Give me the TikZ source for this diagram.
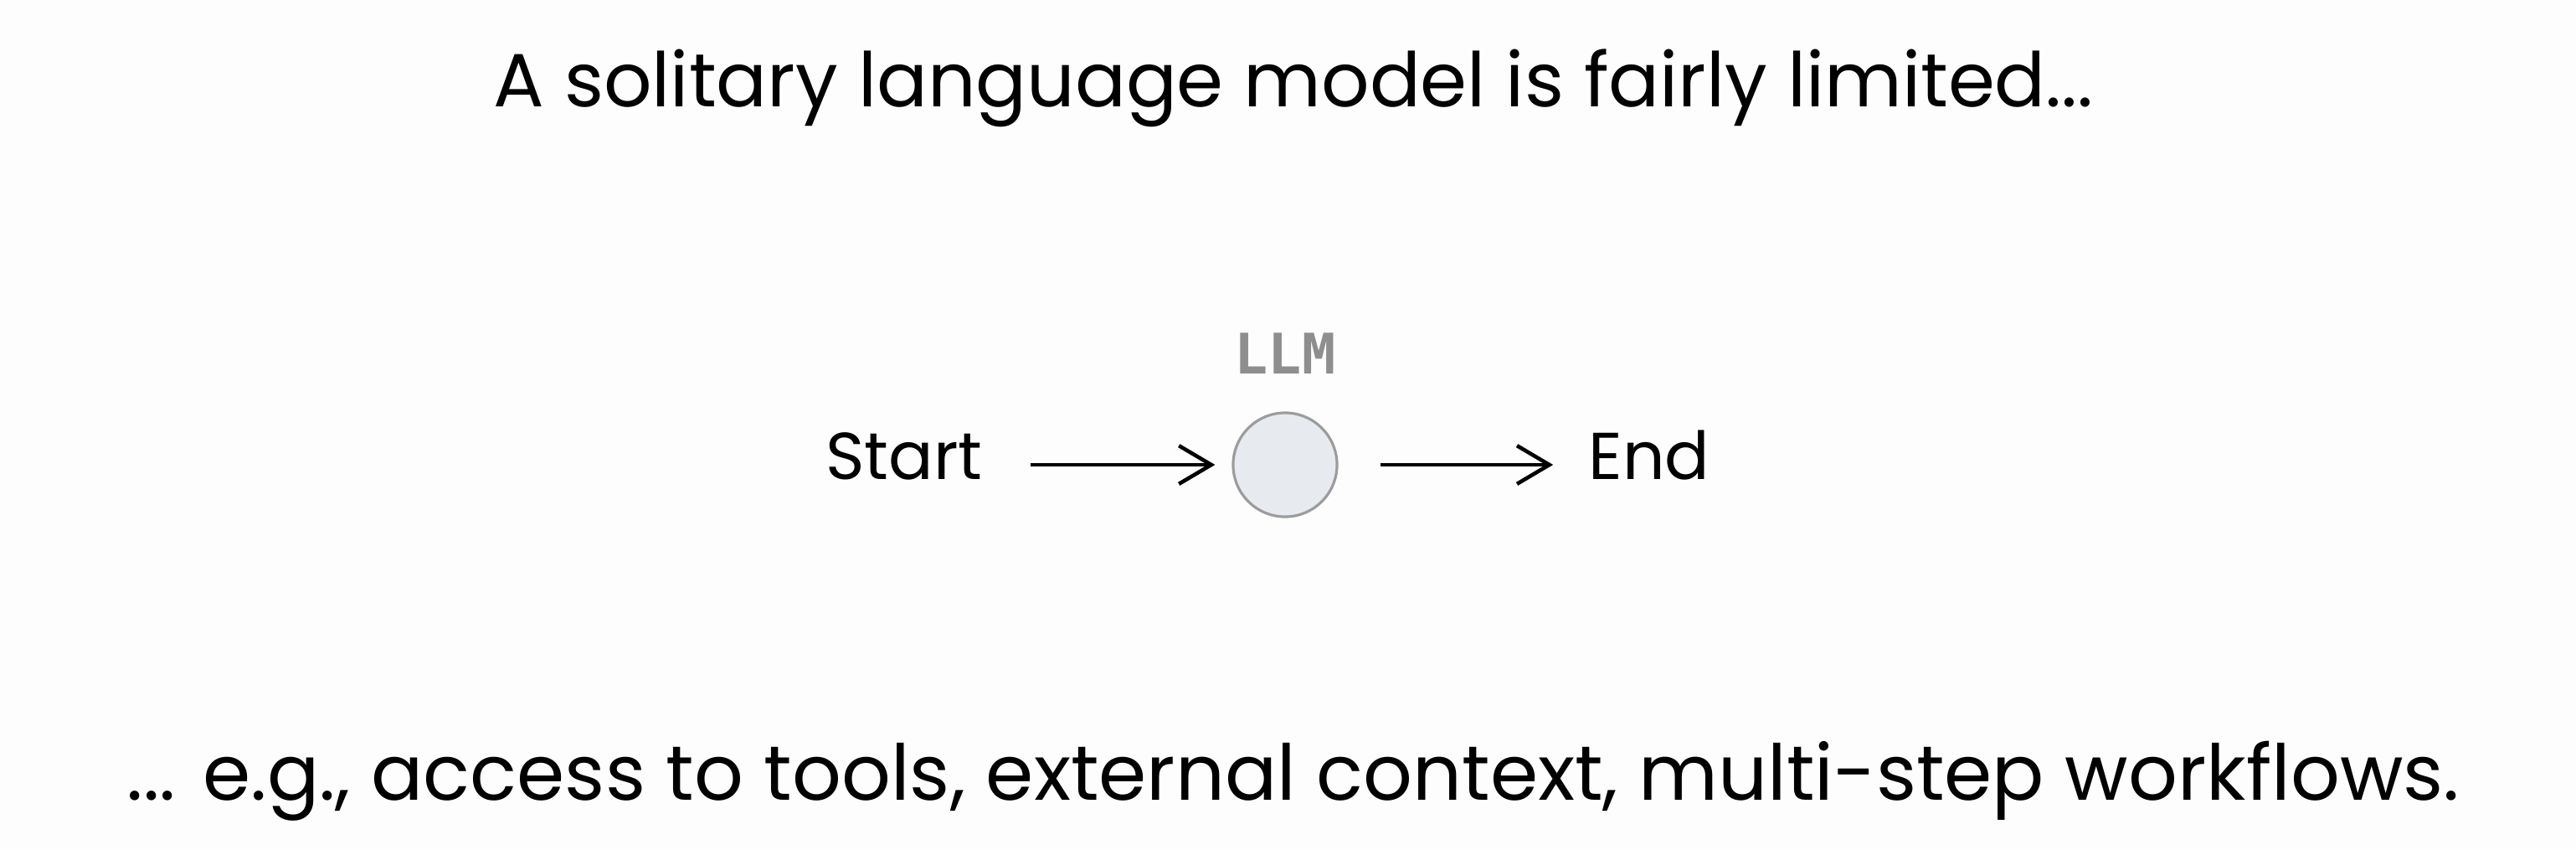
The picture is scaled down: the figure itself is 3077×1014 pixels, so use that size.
\documentclass[tikz,border=0pt]{standalone}
\usepackage{fontspec}
\setmainfont{Poppins}
\setmonofont{DejaVu Sans Mono}
\usetikzlibrary{arrows.meta, positioning}

\definecolor{paper}{HTML}{FDFDFD}
\definecolor{llmfill}{HTML}{E7EAEE}
\definecolor{llmline}{HTML}{9C9C9C}
\definecolor{llmtext}{HTML}{8E8E8E}

\begin{document}
\begin{tikzpicture}[x=0.01cm, y=-0.01cm,
    flow/.style={line width=1.3pt, -{Straight Barb[length=11pt, width=13pt, line width=1.3pt]}},
    hand/.style={anchor=base, font=\fontsize{22.5}{27}\selectfont},
    caption/.style={anchor=base, font=\fontsize{25.6}{31}\selectfont}]

    % Page with the reference's proportions
    \fill[paper] (0, 0) rectangle (3077, 1014);
    \useasboundingbox (0, 0) rectangle (3077, 1014);

    % Headline and closing line
    \node[caption] (title) at (1545, 127) {A solitary language model is fairly limited...};
    \node[caption, font=\fontsize{26.2}{31}\selectfont] (footer) at (1545, 955) {... e.g., access to tools, external context, multi-step workflows.};

    % The single model
    \node[circle, draw=llmline, line width=0.9pt, fill=llmfill, minimum size=1.24cm] (llm) at (1535, 555) {};
    \node[text=llmtext, font=\fontsize{19}{23}\selectfont\ttfamily\bfseries] (llmlabel) at (1535, 422) {LLM};

    % Start and end
    \node[hand] (start) at (1080, 572) {Start};
    \node[hand] (end) at (1970, 572) {End};

    \draw[flow] ([xshift=0.45cm]start.east |- llm.center) -- ([xshift=-0.2cm]llm.west);
    \draw[flow] ([xshift=0.5cm]llm.east) -- ([xshift=-0.3cm]end.west |- llm.center);

\end{tikzpicture}
\end{document}
